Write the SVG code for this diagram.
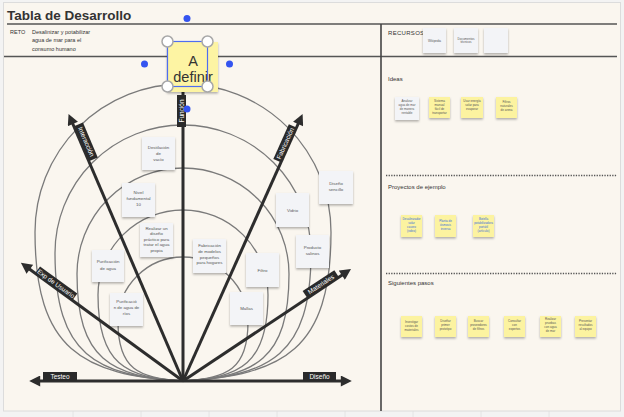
<svg xmlns="http://www.w3.org/2000/svg" width="624" height="417" viewBox="0 0 624 417">
<defs>
<style>
.t{font-family:"Liberation Sans",Arial,sans-serif;fill:#333}
.card{fill:#f3f4f7}
.note{fill:#fcf3a0}
.ct{font-family:"Liberation Sans",Arial,sans-serif;font-size:4.4px;fill:#555;text-anchor:middle}
.nt{font-family:"Liberation Sans",Arial,sans-serif;font-size:3px;fill:#555;text-anchor:middle}
.lt{font-family:"Liberation Sans",Arial,sans-serif;font-size:3px;fill:#3b6fd8;text-anchor:middle}
.arc{fill:none;stroke:#7a7a7a;stroke-width:1.3}
.ax{stroke:#2d2d2d;stroke-width:3;fill:none}
.lab{fill:#2a2a2a}
.lt2{font-family:"Liberation Sans",Arial,sans-serif;font-size:6.5px;fill:#fff;text-anchor:middle}
.sec{font-family:"Liberation Sans",Arial,sans-serif;font-size:6px;fill:#333}
.dot{stroke:#555;stroke-width:1.3;stroke-dasharray:1.3 1.3}
</style>
<filter id="sh" x="-20%" y="-20%" width="140%" height="150%">
<feDropShadow dx="0" dy="1.5" stdDeviation="1" flood-color="#000" flood-opacity="0.3"/>
</filter>
<marker id="ah" viewBox="0 0 10 10" refX="2" refY="5" markerWidth="12" markerHeight="11" markerUnits="userSpaceOnUse" orient="auto">
<path d="M0,0 L10,5 L0,10 z" fill="#2d2d2d"/>
</marker>
</defs>

<rect x="0" y="0" width="624" height="417" fill="#f3f3f3"/>
<g stroke="#e4e4e4" stroke-width="1">
<line x1="73" y1="411" x2="73" y2="417"/><line x1="141" y1="411" x2="141" y2="417"/><line x1="209" y1="411" x2="209" y2="417"/><line x1="277" y1="411" x2="277" y2="417"/><line x1="345" y1="411" x2="345" y2="417"/><line x1="413" y1="411" x2="413" y2="417"/><line x1="481" y1="411" x2="481" y2="417"/><line x1="549" y1="411" x2="549" y2="417"/>
</g>
<rect x="3.5" y="2.5" width="617" height="408.5" fill="#faf6ef" stroke="#dcdcdc" stroke-width="1"/>

<!-- header -->
<text class="t" x="7" y="20" font-size="13.5" font-weight="bold" fill="#222">Tabla de Desarrollo</text>
<line x1="7" y1="24" x2="617" y2="24" stroke="#555" stroke-width="1.6"/>
<text class="t" x="10" y="34" font-size="5.5">RETO</text>
<text class="t" x="32" y="34" font-size="5.5" fill="#555">Desalinizar y potabilizar</text>
<text class="t" x="32" y="42" font-size="5.5" fill="#555">agua de mar para el</text>
<text class="t" x="32" y="51" font-size="5.5" fill="#555">consumo humano</text>
<line x1="4" y1="56.5" x2="617" y2="56.5" stroke="#555" stroke-width="1.6"/>
<line x1="381" y1="24" x2="381" y2="411" stroke="#444" stroke-width="1.6"/>

<!-- right column -->
<g id="recursos">
<text class="sec" x="388" y="35" letter-spacing="0.3">RECURSOS</text>
<rect class="card" x="423" y="28" width="23" height="25" filter="url(#sh)"/>
<text class="nt" x="434.5" y="41.5">Wikipedia</text>
<rect class="card" x="454" y="28" width="24" height="25" filter="url(#sh)"/>
<text class="nt" x="466" y="39.5">Documentos</text>
<text class="nt" x="466" y="43">técnicos</text>
<rect class="card" x="484" y="28" width="24" height="25" filter="url(#sh)"/>
</g>

<g id="ideas">
<text class="sec" x="388" y="81">Ideas</text>
<rect class="card" x="395" y="97" width="24" height="23" filter="url(#sh)"/>
<text class="nt" x="407" y="102">Analizar</text><text class="nt" x="407" y="106">agua de mar</text><text class="nt" x="407" y="110">de manera</text><text class="nt" x="407" y="114">rentable</text>
<rect class="note" x="429" y="97" width="21" height="21" filter="url(#sh)"/>
<text class="nt" x="439.5" y="102">Sistema</text><text class="nt" x="439.5" y="106">manual</text><text class="nt" x="439.5" y="110">fácil de</text><text class="nt" x="439.5" y="114">transportar</text>
<rect class="note" x="461" y="97" width="22" height="21" filter="url(#sh)"/>
<text class="nt" x="472" y="102">Usar energía</text><text class="nt" x="472" y="106">solar para</text><text class="nt" x="472" y="110">evaporar</text>
<rect class="note" x="496" y="97" width="21" height="21" filter="url(#sh)"/>
<text class="nt" x="506.5" y="103">Filtros</text><text class="nt" x="506.5" y="107">naturales</text><text class="nt" x="506.5" y="111">de arena</text>
</g>

<line class="dot" x1="386" y1="175.5" x2="617" y2="175.5"/>
<g id="proyectos">
<text class="sec" x="388" y="189">Proyectos de ejemplo</text>
<rect class="note" x="401" y="215" width="21" height="22" filter="url(#sh)"/>
<text class="lt" x="411.5" y="220">Desalinizador</text><text class="lt" x="411.5" y="224">solar</text><text class="lt" x="411.5" y="228">casero</text><text class="lt" x="411.5" y="232">(video)</text>
<rect class="note" x="435" y="215" width="21" height="22" filter="url(#sh)"/>
<text class="lt" x="445.5" y="222">Planta de</text><text class="lt" x="445.5" y="226">ósmosis</text><text class="lt" x="445.5" y="230">inversa</text>
<rect class="note" x="473" y="215" width="21" height="22" filter="url(#sh)"/>
<text class="lt" x="483.5" y="220">Botella</text><text class="lt" x="483.5" y="224">potabilizadora</text><text class="lt" x="483.5" y="228">portátil</text><text class="lt" x="483.5" y="232">(artículo)</text>
</g>

<line class="dot" x1="386" y1="273.5" x2="617" y2="273.5"/>
<g id="pasos">
<text class="sec" x="388" y="285">Siguientes pasos</text>
<rect class="note" x="401" y="316" width="21" height="21" filter="url(#sh)"/>
<text class="nt" x="411.5" y="323">Investigar</text><text class="nt" x="411.5" y="327">costos de</text><text class="nt" x="411.5" y="331">materiales</text>
<rect class="note" x="435" y="316" width="21" height="21" filter="url(#sh)"/>
<text class="nt" x="445.5" y="322">Diseñar</text><text class="nt" x="445.5" y="326">primer</text><text class="nt" x="445.5" y="330">prototipo</text>
<rect class="note" x="468" y="316" width="21" height="21" filter="url(#sh)"/>
<text class="nt" x="478.5" y="322">Buscar</text><text class="nt" x="478.5" y="326">proveedores</text><text class="nt" x="478.5" y="330">de filtros</text>
<rect class="note" x="504" y="316" width="21" height="21" filter="url(#sh)"/>
<text class="nt" x="514.5" y="322">Consultar</text><text class="nt" x="514.5" y="326">con</text><text class="nt" x="514.5" y="330">expertos</text>
<rect class="note" x="540" y="316" width="21" height="21" filter="url(#sh)"/>
<text class="nt" x="550.5" y="320">Realizar</text><text class="nt" x="550.5" y="324">pruebas</text><text class="nt" x="550.5" y="328">con agua</text><text class="nt" x="550.5" y="332">de mar</text>
<rect class="note" x="575" y="316" width="21" height="21" filter="url(#sh)"/>
<text class="nt" x="585.5" y="322">Presentar</text><text class="nt" x="585.5" y="326">resultados</text><text class="nt" x="585.5" y="330">al equipo</text>
</g>

<!-- arcs -->
<g id="arcs">
<path class="arc" d="M183,381 C82.4,375 35,350 35,232 A148,148 0 0 1 331,232 C331,350 283.6,375 183,381"/>
<path class="arc" d="M183,381 C96,375.9 55,355.4 55,253 A128,128 0 0 1 311,253 C311,355.4 270,375.9 183,381"/>
<path class="arc" d="M183,381 C110.9,376.7 77,359.6 77,274 A106,106 0 0 1 289,274 C289,359.6 255.1,376.7 183,381"/>
<path class="arc" d="M183,381 C125.2,377.6 98,363.8 98,295 A85,85 0 0 1 268,295 C268,363.8 240.8,377.6 183,381"/>
<path class="arc" d="M183,381 C138.8,378.6 118,369.2 118,322 A65,65 0 0 1 248,322 C248,369.2 227.2,378.6 183,381"/>
</g>

<!-- connectors / axes -->
<g id="connectors">
<line class="ax" x1="183" y1="381" x2="38" y2="381" marker-end="url(#ah)"/>
<line class="ax" x1="183" y1="381" x2="343" y2="381" marker-end="url(#ah)"/>
<line class="ax" x1="183" y1="381" x2="183" y2="92"/>
<line class="ax" x1="183" y1="381" x2="72" y2="122" marker-end="url(#ah)"/>
<line class="ax" x1="183" y1="381" x2="299" y2="122" marker-end="url(#ah)"/>
<line class="ax" x1="183" y1="381" x2="28" y2="268" marker-end="url(#ah)"/>
<line class="ax" x1="183" y1="381" x2="343.7" y2="274" marker-end="url(#ah)"/>
</g>

<g id="labels">
<rect class="lab" x="43" y="372" width="34" height="9"/>
<text class="lt2" x="60" y="379">Testeo</text>
<rect class="lab" x="303" y="372" width="33" height="9"/>
<text class="lt2" x="319.5" y="379">Diseño</text>
<g transform="translate(183,111) rotate(-90)">
<rect class="lab" x="-16" y="-6" width="32" height="9"/><text class="lt2" x="0" y="1">Función</text>
</g>
<g transform="translate(83,143) rotate(67.05)">
<rect class="lab" x="-19" y="-8" width="38" height="9"/><text class="lt2" x="0" y="-1.2">Interacción</text>
</g>
<g transform="translate(288.4,144.8) rotate(-65.9)">
<rect class="lab" x="-19" y="-8" width="38" height="9"/><text class="lt2" x="0" y="-1.2">Fabricación</text>
</g>
<g transform="translate(54,286.5) rotate(35.9)">
<rect class="lab" x="-23" y="-8" width="46" height="9"/><text class="lt2" x="0" y="-1.2">Exp de Usuario</text>
</g>
<g transform="translate(322.9,287.3) rotate(-33.5)">
<rect class="lab" x="-19" y="-8" width="38" height="9"/><text class="lt2" x="0" y="-1.2">Materiales</text>
</g>
</g>

<!-- left cards -->
<g id="n1"><rect class="card" x="142" y="137" width="33" height="33" filter="url(#sh)"/>
<text class="ct" x="158.5" y="149">Destilación</text><text class="ct" x="158.5" y="155">de</text><text class="ct" x="158.5" y="161">vacío</text></g>
<g id="n2"><rect class="card" x="122" y="183" width="33" height="34" filter="url(#sh)"/>
<text class="ct" x="138.5" y="194">Nivel</text><text class="ct" x="138.5" y="200">fundamental</text><text class="ct" x="138.5" y="206">10</text></g>
<g id="n3"><rect class="card" x="140" y="223" width="33" height="34" filter="url(#sh)"/>
<text class="ct" x="156.5" y="229.5">Realizar un</text><text class="ct" x="156.5" y="235">diseño</text><text class="ct" x="156.5" y="240.5">práctico para</text><text class="ct" x="156.5" y="246">tratar el agua</text><text class="ct" x="156.5" y="251.5">propia</text></g>
<g id="n4"><rect class="card" x="92" y="250" width="32" height="32" filter="url(#sh)"/>
<text class="ct" x="108" y="263">Purificación</text><text class="ct" x="108" y="269.5">de agua</text></g>
<g id="n5"><rect class="card" x="110" y="293" width="33" height="33" filter="url(#sh)"/>
<text class="ct" x="126.5" y="303">Purificació</text><text class="ct" x="126.5" y="309">n de agua de</text><text class="ct" x="126.5" y="315">ríos</text></g>
<g id="n6"><rect class="card" x="193" y="239" width="33" height="34" filter="url(#sh)"/>
<text class="ct" x="209.5" y="247">Fabricación</text><text class="ct" x="209.5" y="252.8">de modelos</text><text class="ct" x="209.5" y="258.6">pequeños</text><text class="ct" x="209.5" y="264.4">para hogares</text></g>
<g id="n7"><rect class="card" x="246" y="253" width="33" height="34" filter="url(#sh)"/>
<text class="ct" x="262.5" y="271.5">Filtro</text></g>
<g id="n8"><rect class="card" x="230" y="292" width="33" height="33" filter="url(#sh)"/>
<text class="ct" x="246.5" y="310">Mallas</text></g>
<g id="n9"><rect class="card" x="296" y="235" width="33" height="33" filter="url(#sh)"/>
<text class="ct" x="312.5" y="249">Producto</text><text class="ct" x="312.5" y="255">salinos</text></g>
<g id="n10"><rect class="card" x="276" y="193" width="33" height="34" filter="url(#sh)"/>
<text class="ct" x="292.5" y="211.5">Vidrio</text></g>
<g id="n11"><rect class="card" x="319" y="171" width="34" height="33" filter="url(#sh)"/>
<text class="ct" x="336" y="185">Diseño</text><text class="ct" x="336" y="191">sencillo</text></g>

<!-- A definir sticky with selection -->
<g id="sticky">
<rect x="167" y="42" width="51" height="50" fill="#fdf4a3" filter="url(#sh)"/>
<text class="t" x="193" y="66" font-size="14.5" text-anchor="middle">A</text>
<text class="t" x="193" y="81.5" font-size="14.5" text-anchor="middle">definir</text>
</g>
<g id="selection">
<rect x="167.5" y="41.5" width="40" height="45" fill="none" stroke="#4f6ef0" stroke-width="1.2"/>
<g fill="#fff" stroke="#a8a8a8" stroke-width="1.5">
<circle cx="167.5" cy="41.5" r="5.5"/><circle cx="207.5" cy="41.5" r="5.5"/><circle cx="167.5" cy="86.5" r="5.5"/><circle cx="207.5" cy="86.5" r="5.5"/>
</g>
<g fill="#3454f0">
<circle cx="187" cy="18.5" r="3.5"/><circle cx="144.5" cy="64" r="3.5"/><circle cx="229.5" cy="64" r="3.5"/><circle cx="187" cy="109" r="3.5"/>
</g>
</g>
</svg>
